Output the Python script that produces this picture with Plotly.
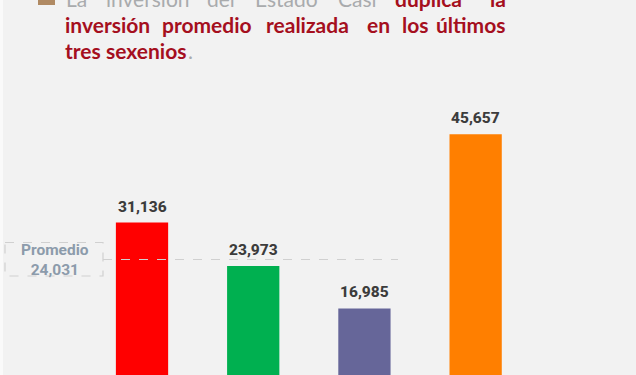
import plotly.graph_objects as go

W, H = 636, 375
categories = ["Sexenio 1", "Sexenio 2", "Sexenio 3", "Actual"]
values = [31136, 23973, 16985, 45657]
value_labels = ["31,136", "23,973", "16,985", "45,657"]
colors = ["#ff0000", "#00b050", "#666699", "#ff7f00"]
RED = "#a50f1e"
GREY = "#a9abad"

def px(x): return x / W
def py(y): return 1 - y / H

fig = go.Figure(go.Bar(
    x=categories, y=values, width=0.47, marker=dict(color=colors, line=dict(width=0)),
    cliponaxis=False,
))

words = [
    ("La", 66, -1.5, GREY, False), ("inversión", 106, -1.5, GREY, False),
    ("del", 207, -1.5, GREY, False), ("Estado", 255, -1.5, GREY, False),
    ("Casi", 338, -1.5, GREY, False), ("duplica", 395, -1.5, RED, True),
    ("la", 490, -1.5, RED, True),
    ("inversión", 65, 24.5, RED, True), ("promedio", 162, 24.5, RED, True),
    ("realizada", 266, 24.5, RED, True), ("en", 367, 24.5, RED, True),
    ("los", 402, 24.5, RED, True), ("últimos", 436, 24.5, RED, True),
    ("tres", 65, 50.5, RED, True), ("sexenios", 106, 50.5, RED, True),
    (".", 188, 50.5, GREY, False),
]
annotations = [dict(
    text=w, x=px(x), y=py(y), xref="paper", yref="paper", xanchor="left", yanchor="middle",
    showarrow=False, borderpad=0, xshift=-1,
    font=dict(family="Lato", size=21, color=c, weight="bold" if b else "normal"),
) for w, x, y, c, b in words]
annotations.append(dict(
    text="Promedio<br>24,031", x=px(54.5), y=py(259.5), xref="paper", yref="paper",
    xanchor="center", yanchor="middle", showarrow=False, align="center",
    font=dict(family="Roboto", size=15.5, color="#8c9bab", weight="bold"),
))
for c, v, t in zip(categories, values, value_labels):
    annotations.append(dict(
        text=t, x=c, y=v, xref="x", yref="y", yanchor="bottom", showarrow=False, yshift=5,
        font=dict(family="Roboto", size=15.5, color="#3c3c3c", weight=800),
    ))

dash = dict(color="#d0d0d0", width=1.2, dash="dash")
shapes = [
    dict(type="rect", xref="paper", yref="paper", x0=px(5), x1=px(103), y0=py(242.5), y1=py(276),
         line=dash, fillcolor="rgba(0,0,0,0)", layer="above"),
    dict(type="line", xref="paper", yref="paper", x0=px(103), x1=px(398), y0=py(259.5), y1=py(259.5),
         line=dash, layer="above"),
    dict(type="rect", xref="paper", yref="paper", x0=px(38), x1=px(55), y0=py(-8), y1=py(5),
         line=dict(width=0), fillcolor="#b08a63", layer="above"),
    dict(type="rect", xref="paper", yref="paper", x0=0, x1=px(3), y0=0, y1=1,
         line=dict(width=0), fillcolor="#fafafa", layer="below"),
]

fig.update_layout(
    width=W, height=H, margin=dict(l=0, r=0, t=0, b=0), showlegend=False,
    paper_bgcolor="#f2f2f2", plot_bgcolor="#f2f2f2",
    xaxis=dict(visible=False, type="category", categoryorder="array", categoryarray=categories,
               range=[-1.277, 4.442]),
    yaxis=dict(visible=False, range=[6013, 67792]),
    annotations=annotations, shapes=shapes,
)
fig.write_html("out.html", config={"displayModeBar": False},
               default_width=f"{W}px", default_height=f"{H}px",
               post_script="document.body.style.margin='0';document.body.style.overflow='hidden';")
